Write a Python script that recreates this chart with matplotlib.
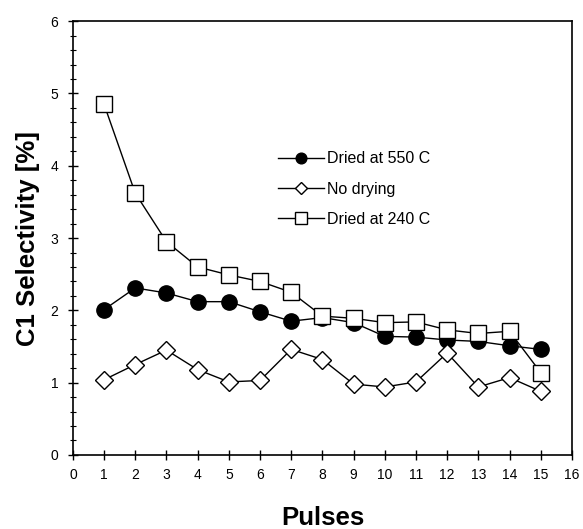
import numpy as np
import matplotlib
matplotlib.use('Agg')
import matplotlib.pyplot as plt
from matplotlib.ticker import MultipleLocator

plt.rcParams['font.family'] = ['Liberation Sans', 'DejaVu Sans']

pulses = np.arange(1, 16)
dried_550 = [2.01, 2.31, 2.24, 2.12, 2.12, 1.98, 1.85, 1.90, 1.83, 1.64, 1.63, 1.59, 1.57, 1.51, 1.46]
no_drying = [1.04, 1.25, 1.45, 1.18, 1.01, 1.03, 1.46, 1.32, 0.98, 0.94, 1.01, 1.41, 0.94, 1.07, 0.88]
dried_240 = [4.85, 3.62, 2.95, 2.60, 2.49, 2.40, 2.25, 1.92, 1.89, 1.83, 1.84, 1.73, 1.68, 1.71, 1.14]

fig = plt.figure(figsize=(5.83, 5.29), dpi=100)
ax = fig.add_axes([0.125, 0.140, 0.856, 0.820])

ax.plot(pulses, dried_550, color='black', lw=1.0, marker='o', ms=11,
        mfc='black', mec='black', label='Dried at 550 C', zorder=3)
ax.plot(pulses, no_drying, color='black', lw=1.0, marker='D', ms=9,
        mfc='white', mec='black', mew=1.0, label='No drying', zorder=3)
ax.plot(pulses, dried_240, color='black', lw=1.0, marker='s', ms=12,
        mfc='white', mec='black', mew=1.0, label='Dried at 240 C', zorder=4)

ax.set_xlim(0, 16)
ax.set_ylim(0, 6)
ax.xaxis.set_major_locator(MultipleLocator(1))
ax.yaxis.set_major_locator(MultipleLocator(1))
ax.yaxis.set_minor_locator(MultipleLocator(0.2))
ax.tick_params(axis='both', which='major', direction='inout', length=7, width=1,
               labelsize=10, top=False, right=False)
ax.tick_params(axis='y', which='minor', direction='inout', length=5, width=0.8, right=False)
ax.tick_params(axis='x', pad=6)
ax.tick_params(axis='y', pad=7)
for s in ax.spines.values():
    s.set_linewidth(1.2)

ax.set_xlabel('Pulses', fontsize=18.5, fontweight='bold', va='center')
ax.xaxis.set_label_coords(0.5, -0.145)
ax.set_ylabel('C1 Selectivity [%]', fontsize=18.5, fontweight='bold', va='center')
ax.yaxis.set_label_coords(-0.09, 0.5)

ax.legend(loc='center left', bbox_to_anchor=(0.411, 0.613), frameon=False, fontsize=11.5,
          markerscale=0.7, handlelength=2.9, handletextpad=0.2, labelspacing=0.95,
          borderpad=0, borderaxespad=0)

fig.savefig('out.png', dpi=100)
